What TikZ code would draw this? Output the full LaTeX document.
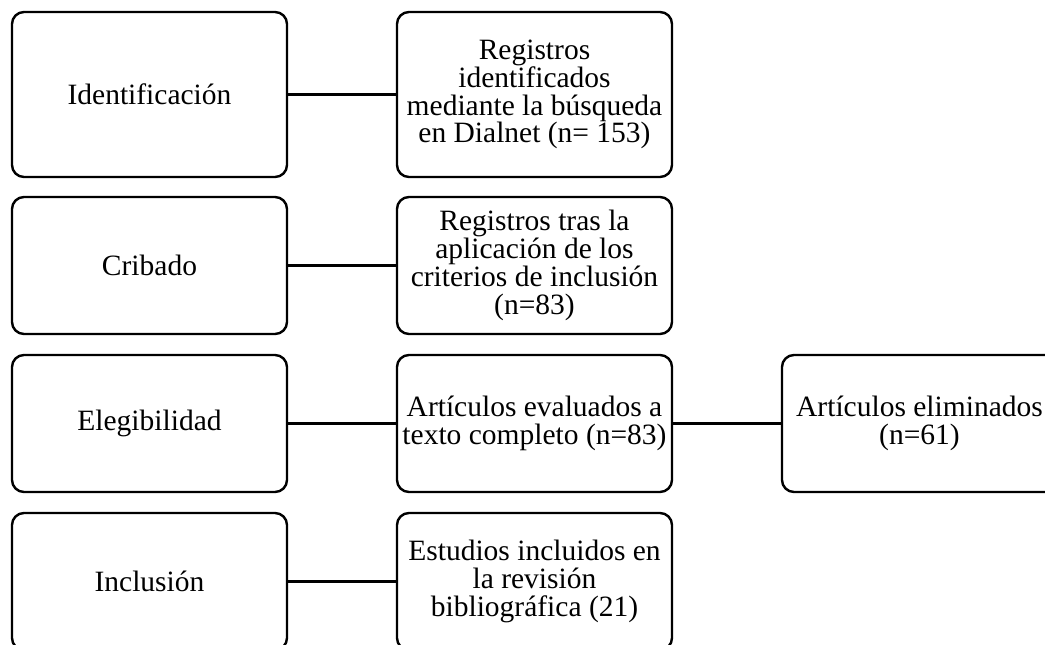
\documentclass[tikz,border=0pt]{standalone}
\usepackage{fontspec}
\setmainfont{Liberation Serif}
\begin{document}
\begin{tikzpicture}[x=1pt,y=-1pt,
  box/.style={draw=black,line width=2.4pt,rounded corners=12pt,minimum width=275pt,inner sep=0pt,align=center,font=\fontsize{29.5}{27.8}\selectfont},
  tall/.style={box,minimum height=165pt},
  short/.style={box,minimum height=137pt},
  link/.style={line width=2.4pt}]
\useasboundingbox (0,0) rectangle (1045,645);
\clip (0,0) rectangle (1045,645);
\node[tall]  (id)  at (149.5,94.5)  {Identificación};
\node[tall]  (reg) at (534.5,94.5)  {Registros\\identificados\\mediante la búsqueda\\en Dialnet (n= 153)};
\node[short] (cri) at (149.5,265.5) {Cribado};
\node[short] (cr2) at (534.5,265.5) {Registros tras la\\aplicación de los\\criterios de inclusión\\(n=83)};
\node[short] (ele) at (149.5,423.5) {Elegibilidad};
\node[short] (art) at (534.5,423.5) {Artículos evaluados a\\texto completo (n=83)};
\node[short] (eli) at (919.5,423.5) {Artículos eliminados\\(n=61)};
\node[short] (inc) at (149.5,581.5) {Inclusión};
\node[short] (est) at (534.5,581.5) {Estudios incluidos en\\la revisión\\bibliográfica (21)};
\draw[link] (id) -- (reg);
\draw[link] (cri) -- (cr2);
\draw[link] (ele) -- (art);
\draw[link] (art) -- (eli);
\draw[link] (inc) -- (est);
\end{tikzpicture}
\end{document}
